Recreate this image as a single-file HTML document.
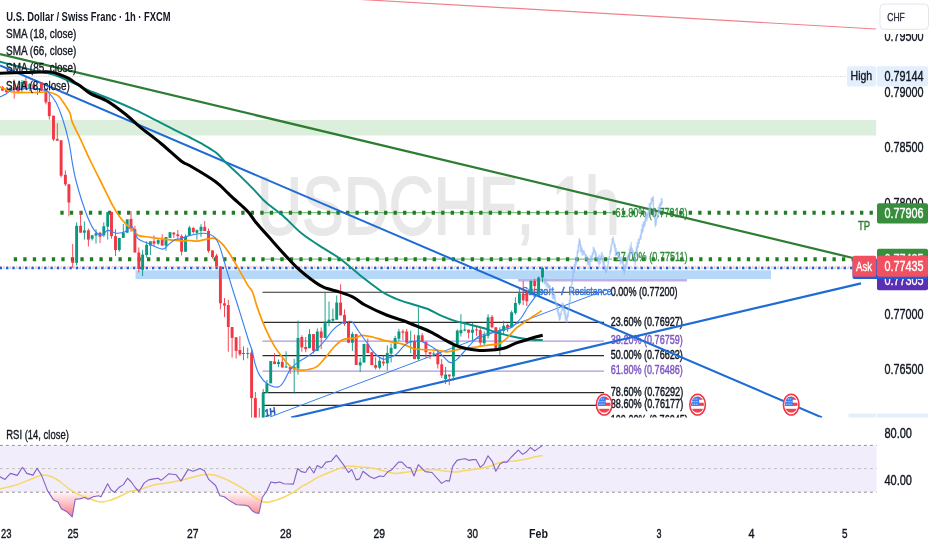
<!DOCTYPE html>
<html lang="en"><head><meta charset="utf-8"><title>USDCHF 1h chart</title>
<style>html,body{margin:0;padding:0;background:#fff}svg{display:block}text{font-family:"Liberation Sans",sans-serif}</style></head><body>
<svg width="932" height="550" viewBox="0 0 932 550">
<defs>
<clipPath id="main"><rect x="0" y="0" width="876.5" height="417.5"/></clipPath>
<clipPath id="mainfull"><rect x="0" y="0" width="932" height="417.5"/></clipPath>
<linearGradient id="os" gradientUnits="userSpaceOnUse" x1="0" y1="492" x2="0" y2="517"><stop offset="0" stop-color="#f7525f" stop-opacity="0.05"/><stop offset="1" stop-color="#f7525f" stop-opacity="0.75"/></linearGradient>
</defs>
<rect width="932" height="550" fill="#fff"/>
<g clip-path="url(#main)">
<text transform="matrix(0.761,0,0,1,0,0)" x="337.7" y="234.5" font-size="82" fill="#e8e8e9" stroke="#e8e8e9" stroke-width="1.8">USDCHF<tspan x="679">,</tspan> <tspan x="724.4">1</tspan><tspan x="768.7">h</tspan></text>
<path d="M553,225.5H566.5V238H553ZM573.5,225.5H587V238H573.5Z" fill="#fff"/>
<rect x="0" y="120" width="876.5" height="15.5" fill="#dcefdc"/>
<line x1="0" y1="76.5" x2="847" y2="76.5" stroke="#d4d4d4" stroke-width="0.9" stroke-dasharray="1.2,1.2"/>
<rect x="135.5" y="270.3" width="635.5" height="8.8" fill="#b5d8f8"/>
<line x1="518" y1="280.2" x2="687" y2="280.2" stroke="#c4afe4" stroke-width="2.6"/>
<line x1="262.5" y1="292.3" x2="604" y2="292.3" stroke="#2c2c2c" stroke-width="1.1"/>
<line x1="262.5" y1="322.4" x2="604" y2="322.4" stroke="#2c2c2c" stroke-width="1.1"/>
<line x1="262.5" y1="341" x2="604" y2="341" stroke="#ad97de" stroke-width="1.25"/>
<line x1="262.5" y1="355.6" x2="604" y2="355.6" stroke="#2c2c2c" stroke-width="1.1"/>
<line x1="262.5" y1="371" x2="604" y2="371" stroke="#ad97de" stroke-width="1.25"/>
<line x1="262.5" y1="392.6" x2="604" y2="392.6" stroke="#2c2c2c" stroke-width="1.1"/>
<line x1="262.5" y1="405.4" x2="604" y2="405.4" stroke="#2c2c2c" stroke-width="1.1"/>
<line x1="262" y1="212.7" x2="612" y2="212.7" stroke="#66b26a" stroke-width="1"/>
<line x1="262" y1="259.1" x2="612" y2="259.1" stroke="#66b26a" stroke-width="1"/>
<line x1="60.35" y1="212.8" x2="873.5" y2="212.8" stroke="#1f7d22" stroke-width="4" stroke-dasharray="3.3,6.22"/>
<line x1="13.75" y1="259.2" x2="873.5" y2="259.2" stroke="#1f7d22" stroke-width="4" stroke-dasharray="3.3,6.22"/>
<line x1="0" y1="266.4" x2="876" y2="266.4" stroke="#f9b4b9" stroke-width="0.9" stroke-dasharray="1.5,1.7"/>
<line x1="-0.34" y1="268.1" x2="876" y2="268.1" stroke="#8db8f5" stroke-width="1" stroke-dasharray="2,4.345" stroke-dashoffset="-3.3"/>
<line x1="-0.34" y1="268" x2="876" y2="268" stroke="#1e5fe0" stroke-width="2.7" stroke-dasharray="2.4,3.945"/>
<text x="610.8" y="295.5" font-size="12.5" fill="#131722" stroke="#131722" stroke-width="0.45" textLength="66.8" lengthAdjust="spacingAndGlyphs">0.00% (0.77200)</text>
<text x="610.8" y="325.6" font-size="12.5" fill="#131722" stroke="#131722" stroke-width="0.45" textLength="72.0" lengthAdjust="spacingAndGlyphs">23.60% (0.76927)</text>
<text x="610.8" y="344.2" font-size="12.5" fill="#7e57c2" stroke="#7e57c2" stroke-width="0.45" textLength="72.0" lengthAdjust="spacingAndGlyphs">38.20% (0.76759)</text>
<text x="610.8" y="358.8" font-size="12.5" fill="#131722" stroke="#131722" stroke-width="0.45" textLength="72.0" lengthAdjust="spacingAndGlyphs">50.00% (0.76623)</text>
<text x="610.8" y="374.2" font-size="12.5" fill="#7e57c2" stroke="#7e57c2" stroke-width="0.45" textLength="72.0" lengthAdjust="spacingAndGlyphs">61.80% (0.76486)</text>
<text x="610.8" y="395.8" font-size="12.5" fill="#131722" stroke="#131722" stroke-width="0.45" textLength="72.4" lengthAdjust="spacingAndGlyphs">78.60% (0.76292)</text>
<text x="610.8" y="408.2" font-size="12.5" fill="#131722" stroke="#131722" stroke-width="0.45" textLength="72.4" lengthAdjust="spacingAndGlyphs">88.60% (0.76177)</text>
<text x="610.8" y="423.6" font-size="12.5" fill="#131722" stroke="#131722" stroke-width="0.45" textLength="77.0" lengthAdjust="spacingAndGlyphs">100.00% (0.76045)</text>
<text x="615.6" y="217.0" font-size="12.5" fill="#2e8b3a" stroke="#2e8b3a" stroke-width="0.35" textLength="72.0" lengthAdjust="spacingAndGlyphs">61.80% (0.77913)</text>
<text x="615.6" y="261.4" font-size="12.5" fill="#2e8b3a" stroke="#2e8b3a" stroke-width="0.35" textLength="72.0" lengthAdjust="spacingAndGlyphs">27.00% (0.77511)</text>
<text x="522.0" y="294.8" font-size="11.8" fill="#3277ea" stroke="#3277ea" stroke-width="0.5" textLength="32.0" lengthAdjust="spacingAndGlyphs">Support</text>
<text x="561.0" y="294.8" font-size="11.8" fill="#3277ea" stroke="#3277ea" stroke-width="0.5" textLength="3.6" lengthAdjust="spacingAndGlyphs">/</text>
<text x="568.6" y="294.8" font-size="11.8" fill="#3277ea" stroke="#3277ea" stroke-width="0.5" textLength="43.0" lengthAdjust="spacingAndGlyphs">Resistance</text>
<line x1="360" y1="-0.5" x2="876" y2="29" stroke="#f0808a" stroke-width="1.2"/>
<line x1="0" y1="54" x2="853" y2="258" stroke="#2e7d32" stroke-width="2.2"/>
<line x1="0" y1="65.5" x2="822" y2="417.5" stroke="#1e6ad6" stroke-width="2"/>
<line x1="291" y1="417.5" x2="861" y2="283.4" stroke="#1e6ad6" stroke-width="2.15"/>
<line x1="270" y1="417" x2="607" y2="289.5" stroke="#3b82f0" stroke-width="1"/>
<text x="265.5" y="417" font-size="10.5" fill="#2456b8" stroke="#2456b8" stroke-width="0.3" font-weight="bold" font-style="italic" transform="rotate(-14 265.5 417)" textLength="11" lengthAdjust="spacingAndGlyphs">1H</text>
<polyline points="544.2,282.0 548.5,285.0 551.6,291.7 554.7,299.1 557.8,309.0 559.7,320.0 561.5,311.4 562.8,304.0 564.6,313.9 566.5,318.9 568.3,313.9 569.6,302.8 570.8,290.4 572.6,276.8 575.1,265.7 577.0,257.9 579.5,238.3 580.7,250.3 583.7,251.8 586.8,257.9 589.0,263.9 592.0,256.4 594.3,249.6 596.6,257.9 599.6,260.9 601.8,256.4 604.1,263.9 606.4,272.2 608.6,260.9 610.9,247.3 613.2,239.0 614.7,248.8 616.9,253.3 619.9,257.9 623.0,263.9 624.5,271.4 626.7,260.9 629.0,254.9 631.3,247.3 633.5,254.9 635.0,262.4 636.5,250.3 638.8,242.8 641.1,233.7 644.1,223.2 647.1,215.6 650.1,206.6 652.8,197.5 653.9,209.6 655.4,224.7 657.3,217.1 659.2,208.1 662.2,201.3" fill="none" stroke="#9cc0f5" stroke-width="1.4" stroke-opacity="0.4" stroke-linejoin="round"/>
<path d="M544.2,278.9V284.3M545.2,277.9V284.6M546.2,279.2V286.7M547.2,282.3V288.1M548.2,283.1V288.5M549.2,284.7V288.5M550.2,285.1V294.3M551.2,288.7V293.5M552.2,288.5V299.4M553.2,291.1V299.0M554.2,291.5V299.6M555.2,294.9V303.6M556.2,301.7V306.0M557.2,304.0V312.7M558.2,308.9V315.7M559.2,312.4V320.5M560.2,313.4V319.4M561.2,311.0V315.4M562.2,302.5V311.1M563.2,303.1V310.6M564.2,307.9V314.7M565.2,310.0V320.5M566.2,315.4V322.5M567.2,312.8V322.8M568.2,309.0V317.1M569.2,299.8V308.3M570.2,293.0V301.9M571.2,285.1V291.3M572.2,278.1V284.7M573.2,268.8V278.5M574.2,263.8V272.8M575.2,260.3V269.8M576.2,256.8V265.0M577.2,250.6V262.6M578.2,244.6V253.3M579.2,238.8V245.7M580.2,240.6V251.8M581.2,244.9V253.5M582.2,247.6V255.9M583.2,249.9V255.4M584.2,250.4V254.9M585.2,253.0V260.1M586.2,254.6V259.5M587.2,255.5V264.8M588.2,259.8V265.5M589.2,259.2V269.3M590.2,255.3V266.7M591.2,255.5V262.0M592.2,252.5V261.7M593.2,246.6V255.1M594.2,247.5V252.6M595.2,250.2V256.8M596.2,252.0V259.3M597.2,257.0V262.1M598.2,256.2V263.8M599.2,254.2V265.5M600.2,255.6V264.3M601.2,252.7V259.4M602.2,251.7V263.1M603.2,255.1V266.5M604.2,260.8V267.8M605.2,265.9V272.5M606.2,269.7V273.3M607.2,265.5V270.4M608.2,259.8V264.7M609.2,255.9V259.6M610.2,249.4V254.8M611.2,244.6V252.1M612.2,238.0V244.9M613.2,236.2V242.2M614.2,242.2V247.6M615.2,244.1V256.3M616.2,248.0V255.8M617.2,251.8V255.8M618.2,252.1V258.1M619.2,251.2V259.1M620.2,256.9V264.7M621.2,256.3V262.6M622.2,258.1V264.0M623.2,260.8V271.3M624.2,264.1V274.9M625.2,265.3V271.4M626.2,261.0V268.6M627.2,255.4V265.0M628.2,253.8V259.6M629.2,248.7V260.7M630.2,245.2V256.5M631.2,242.0V252.8M632.2,247.8V254.5M633.2,250.6V255.5M634.2,256.8V261.3M635.2,258.0V265.7M636.2,246.4V256.5M637.2,241.8V254.5M638.2,238.5V248.1M639.2,238.6V243.9M640.2,234.8V239.8M641.2,228.7V239.4M642.2,224.1V233.7M643.2,221.6V231.8M644.2,221.0V227.7M645.2,214.4V225.8M646.2,212.6V221.8M647.2,212.9V220.7M648.2,209.1V217.8M649.2,202.9V212.8M650.2,202.8V212.5M651.2,197.8V205.2M652.2,197.4V201.8M653.2,195.9V207.4M654.2,210.4V218.3M655.2,216.3V227.5M656.2,218.2V225.7M657.2,215.3V219.1M658.2,206.5V217.6M659.2,204.0V214.3M660.2,202.2V211.7M661.2,197.9V206.1M662.2,198.5V204.3" stroke="#8db5f4" stroke-width="1" stroke-opacity="0.7" fill="none"/>
<path d="M2.5,86.0V91.0" stroke="#f23645" stroke-width="0.9"/>
<rect x="1.05" y="87.0" width="2.9" height="3.5" fill="#f23645"/>
<path d="M6.4,89.0V93.0" stroke="#f23645" stroke-width="0.9"/>
<rect x="4.95" y="90.0" width="2.9" height="2.0" fill="#f23645"/>
<path d="M10.3,87.0V92.0" stroke="#089981" stroke-width="0.9"/>
<rect x="8.85" y="88.0" width="2.9" height="3.0" fill="#089981"/>
<path d="M14.2,79.5V98.5" stroke="#f23645" stroke-width="0.9"/>
<rect x="12.75" y="87.5" width="2.9" height="2.5" fill="#f23645"/>
<path d="M18.1,86.0V92.0" stroke="#f23645" stroke-width="0.9"/>
<rect x="16.65" y="86.5" width="2.9" height="5.0" fill="#f23645"/>
<path d="M22.0,80.0V93.0" stroke="#089981" stroke-width="0.9"/>
<rect x="20.55" y="82.0" width="2.9" height="8.0" fill="#089981"/>
<path d="M25.9,77.0V90.0" stroke="#f23645" stroke-width="0.9"/>
<rect x="24.45" y="81.0" width="2.9" height="8.0" fill="#f23645"/>
<path d="M29.8,83.0V91.0" stroke="#089981" stroke-width="0.9"/>
<rect x="28.35" y="84.0" width="2.9" height="5.0" fill="#089981"/>
<path d="M33.7,84.0V90.0" stroke="#f23645" stroke-width="0.9"/>
<rect x="32.25" y="84.5" width="2.9" height="4.5" fill="#f23645"/>
<path d="M37.5,87.5V95.0" stroke="#089981" stroke-width="0.9"/>
<rect x="36.05" y="88.0" width="2.9" height="2.0" fill="#089981"/>
<path d="M41.4,82.0V91.0" stroke="#f23645" stroke-width="0.9"/>
<rect x="39.95" y="82.6" width="2.9" height="8.0" fill="#f23645"/>
<path d="M45.9,90.2V104.3" stroke="#f23645" stroke-width="0.9"/>
<rect x="44.45" y="90.2" width="2.9" height="12.1" fill="#f23645"/>
<path d="M49.3,93.0V119.5" stroke="#f23645" stroke-width="0.9"/>
<rect x="47.85" y="102.0" width="2.9" height="14.1" fill="#f23645"/>
<path d="M53.5,115.7V141.0" stroke="#f23645" stroke-width="0.9"/>
<rect x="52.05" y="115.7" width="2.9" height="23.7" fill="#f23645"/>
<path d="M57.3,123.3V141.0" stroke="#f23645" stroke-width="0.9"/>
<rect x="55.85" y="138.9" width="2.9" height="1.7" fill="#f23645"/>
<path d="M61.1,140.3V177.4" stroke="#f23645" stroke-width="0.9"/>
<rect x="59.65" y="140.3" width="2.9" height="35.4" fill="#f23645"/>
<path d="M65.4,170.5V186.0" stroke="#f23645" stroke-width="0.9"/>
<rect x="63.95" y="174.8" width="2.9" height="9.5" fill="#f23645"/>
<path d="M68.9,184.0V216.3" stroke="#f23645" stroke-width="0.9"/>
<rect x="67.45" y="184.3" width="2.9" height="18.2" fill="#f23645"/>
<path d="M72.7,243.9V268.0" stroke="#f23645" stroke-width="0.9"/>
<rect x="71.25" y="260.3" width="2.9" height="2.6" fill="#f23645"/>
<path d="M76.6,222.3V265.5" stroke="#089981" stroke-width="0.9"/>
<rect x="75.15" y="225.8" width="2.9" height="37.1" fill="#089981"/>
<path d="M80.6,211.0V232.7" stroke="#f23645" stroke-width="0.9"/>
<rect x="79.15" y="225.8" width="2.9" height="6.9" fill="#f23645"/>
<path d="M84.4,221.5V239.6" stroke="#089981" stroke-width="0.9"/>
<rect x="82.95" y="230.4" width="2.9" height="2.3" fill="#089981"/>
<path d="M88.4,228.7V246.5" stroke="#f23645" stroke-width="0.9"/>
<rect x="86.95" y="230.4" width="2.9" height="9.2" fill="#f23645"/>
<path d="M92.2,234.9V240.5" stroke="#089981" stroke-width="0.9"/>
<rect x="90.75" y="235.3" width="2.9" height="3.4" fill="#089981"/>
<path d="M96.0,229.2V243.6" stroke="#089981" stroke-width="0.9"/>
<rect x="94.55" y="233.2" width="2.9" height="2.4" fill="#089981"/>
<path d="M100.0,231.8V243.0" stroke="#f23645" stroke-width="0.9"/>
<rect x="98.55" y="232.7" width="2.9" height="4.0" fill="#f23645"/>
<path d="M103.8,222.3V237.0" stroke="#089981" stroke-width="0.9"/>
<rect x="102.35" y="226.3" width="2.9" height="9.0" fill="#089981"/>
<path d="M107.7,212.0V239.6" stroke="#089981" stroke-width="0.9"/>
<rect x="106.25" y="212.0" width="2.9" height="14.6" fill="#089981"/>
<path d="M111.5,212.0V238.7" stroke="#f23645" stroke-width="0.9"/>
<rect x="110.05" y="212.0" width="2.9" height="24.1" fill="#f23645"/>
<path d="M115.5,229.2V256.0" stroke="#f23645" stroke-width="0.9"/>
<rect x="114.05" y="236.1" width="2.9" height="13.9" fill="#f23645"/>
<path d="M119.3,237.9V251.7" stroke="#089981" stroke-width="0.9"/>
<rect x="117.85" y="237.9" width="2.9" height="12.1" fill="#089981"/>
<path d="M123.3,224.0V237.9" stroke="#089981" stroke-width="0.9"/>
<rect x="121.85" y="232.7" width="2.9" height="5.2" fill="#089981"/>
<path d="M127.2,219.4V232.7" stroke="#089981" stroke-width="0.9"/>
<rect x="125.75" y="219.4" width="2.9" height="13.3" fill="#089981"/>
<path d="M131.0,211.1V231.8" stroke="#f23645" stroke-width="0.9"/>
<rect x="129.55" y="218.9" width="2.9" height="10.3" fill="#f23645"/>
<path d="M134.9,225.8V252.5" stroke="#f23645" stroke-width="0.9"/>
<rect x="133.45" y="229.2" width="2.9" height="23.3" fill="#f23645"/>
<path d="M138.8,247.4V272.4" stroke="#f23645" stroke-width="0.9"/>
<rect x="137.35" y="252.5" width="2.9" height="16.5" fill="#f23645"/>
<path d="M142.6,250.0V276.0" stroke="#089981" stroke-width="0.9"/>
<rect x="141.15" y="254.6" width="2.9" height="15.2" fill="#089981"/>
<path d="M146.6,241.3V257.7" stroke="#089981" stroke-width="0.9"/>
<rect x="145.15" y="244.8" width="2.9" height="10.3" fill="#089981"/>
<path d="M150.4,241.3V255.0" stroke="#089981" stroke-width="0.9"/>
<rect x="148.95" y="241.3" width="2.9" height="4.3" fill="#089981"/>
<path d="M154.0,235.3V246.5" stroke="#f23645" stroke-width="0.9"/>
<rect x="152.55" y="241.3" width="2.9" height="2.3" fill="#f23645"/>
<path d="M158.2,238.7V244.8" stroke="#089981" stroke-width="0.9"/>
<rect x="156.75" y="240.1" width="2.9" height="3.5" fill="#089981"/>
<path d="M162.2,234.4V245.6" stroke="#f23645" stroke-width="0.9"/>
<rect x="160.75" y="239.6" width="2.9" height="6.0" fill="#f23645"/>
<path d="M166.0,237.0V250.8" stroke="#089981" stroke-width="0.9"/>
<rect x="164.55" y="237.0" width="2.9" height="8.6" fill="#089981"/>
<path d="M170.0,232.2V237.9" stroke="#089981" stroke-width="0.9"/>
<rect x="168.55" y="232.2" width="2.9" height="5.7" fill="#089981"/>
<path d="M173.8,232.0V237.9" stroke="#f23645" stroke-width="0.9"/>
<rect x="172.35" y="232.7" width="2.9" height="1.7" fill="#f23645"/>
<path d="M177.8,230.0V238.7" stroke="#f23645" stroke-width="0.9"/>
<rect x="176.35" y="234.4" width="2.9" height="1.7" fill="#f23645"/>
<path d="M181.6,234.4V255.5" stroke="#f23645" stroke-width="0.9"/>
<rect x="180.15" y="236.1" width="2.9" height="15.6" fill="#f23645"/>
<path d="M185.5,234.5V251.7" stroke="#089981" stroke-width="0.9"/>
<rect x="184.05" y="236.6" width="2.9" height="15.1" fill="#089981"/>
<path d="M189.4,225.9V235.4" stroke="#089981" stroke-width="0.9"/>
<rect x="187.95" y="227.6" width="2.9" height="7.8" fill="#089981"/>
<path d="M193.3,226.8V233.7" stroke="#f23645" stroke-width="0.9"/>
<rect x="191.85" y="228.0" width="2.9" height="4.0" fill="#f23645"/>
<path d="M196.9,229.4V239.7" stroke="#089981" stroke-width="0.9"/>
<rect x="195.45" y="230.2" width="2.9" height="2.6" fill="#089981"/>
<path d="M201.0,224.2V237.0" stroke="#089981" stroke-width="0.9"/>
<rect x="199.55" y="226.8" width="2.9" height="4.0" fill="#089981"/>
<path d="M204.7,221.0V231.0" stroke="#f23645" stroke-width="0.9"/>
<rect x="203.25" y="226.8" width="2.9" height="4.2" fill="#f23645"/>
<path d="M208.5,228.5V252.7" stroke="#f23645" stroke-width="0.9"/>
<rect x="207.05" y="231.0" width="2.9" height="20.0" fill="#f23645"/>
<path d="M212.5,250.4V258.7" stroke="#f23645" stroke-width="0.9"/>
<rect x="211.05" y="250.4" width="2.9" height="6.6" fill="#f23645"/>
<path d="M216.5,253.9V266.5" stroke="#f23645" stroke-width="0.9"/>
<rect x="215.05" y="255.6" width="2.9" height="10.9" fill="#f23645"/>
<path d="M220.4,266.5V309.4" stroke="#f23645" stroke-width="0.9"/>
<rect x="218.95" y="266.5" width="2.9" height="36.8" fill="#f23645"/>
<path d="M224.5,298.1V317.1" stroke="#f23645" stroke-width="0.9"/>
<rect x="223.05" y="303.3" width="2.9" height="2.3" fill="#f23645"/>
<path d="M228.3,299.9V351.7" stroke="#f23645" stroke-width="0.9"/>
<rect x="226.85" y="305.0" width="2.9" height="22.0" fill="#f23645"/>
<path d="M232.1,327.0V357.7" stroke="#f23645" stroke-width="0.9"/>
<rect x="230.65" y="327.0" width="2.9" height="10.9" fill="#f23645"/>
<path d="M236.1,337.3V358.6" stroke="#f23645" stroke-width="0.9"/>
<rect x="234.65" y="337.3" width="2.9" height="13.5" fill="#f23645"/>
<path d="M239.9,336.1V356.0" stroke="#f23645" stroke-width="0.9"/>
<rect x="238.45" y="350.0" width="2.9" height="4.3" fill="#f23645"/>
<path d="M243.5,346.5V360.3" stroke="#089981" stroke-width="0.9"/>
<rect x="242.05" y="353.0" width="2.9" height="1.0" fill="#089981"/>
<path d="M247.7,347.7V358.6" stroke="#089981" stroke-width="0.9"/>
<rect x="246.25" y="353.0" width="2.9" height="1.0" fill="#089981"/>
<path d="M251.6,349.0V420.0" stroke="#f23645" stroke-width="0.9"/>
<rect x="250.15" y="352.6" width="2.9" height="45.5" fill="#f23645"/>
<path d="M255.4,392.0V420.0" stroke="#f23645" stroke-width="0.9"/>
<rect x="253.95" y="398.1" width="2.9" height="21.9" fill="#f23645"/>
<path d="M259.3,407.9V420.0" stroke="#f23645" stroke-width="0.9"/>
<rect x="257.85" y="419.0" width="2.9" height="1.0" fill="#f23645"/>
<path d="M263.2,389.0V420.0" stroke="#089981" stroke-width="0.9"/>
<rect x="261.75" y="392.8" width="2.9" height="27.2" fill="#089981"/>
<path d="M266.9,380.0V393.1" stroke="#089981" stroke-width="0.9"/>
<rect x="265.45" y="383.3" width="2.9" height="9.8" fill="#089981"/>
<path d="M270.7,361.1V383.3" stroke="#089981" stroke-width="0.9"/>
<rect x="269.25" y="361.1" width="2.9" height="22.2" fill="#089981"/>
<path d="M274.5,353.3V364.1" stroke="#f23645" stroke-width="0.9"/>
<rect x="273.05" y="361.4" width="2.9" height="2.7" fill="#f23645"/>
<path d="M278.5,359.6V367.1" stroke="#089981" stroke-width="0.9"/>
<rect x="277.05" y="361.9" width="2.9" height="2.2" fill="#089981"/>
<path d="M282.3,358.1V367.5" stroke="#f23645" stroke-width="0.9"/>
<rect x="280.85" y="361.9" width="2.9" height="5.6" fill="#f23645"/>
<path d="M286.1,351.3V367.9" stroke="#089981" stroke-width="0.9"/>
<rect x="284.65" y="366.5" width="2.9" height="1.0" fill="#089981"/>
<path d="M290.2,366.8V373.9" stroke="#f23645" stroke-width="0.9"/>
<rect x="288.75" y="366.8" width="2.9" height="2.6" fill="#f23645"/>
<path d="M294.2,358.9V393.5" stroke="#089981" stroke-width="0.9"/>
<rect x="292.75" y="366.8" width="2.9" height="2.6" fill="#089981"/>
<path d="M298.0,320.6V374.7" stroke="#089981" stroke-width="0.9"/>
<rect x="296.55" y="337.9" width="2.9" height="30.6" fill="#089981"/>
<path d="M301.8,335.3V351.7" stroke="#f23645" stroke-width="0.9"/>
<rect x="300.35" y="337.0" width="2.9" height="10.4" fill="#f23645"/>
<path d="M305.7,337.0V352.2" stroke="#f23645" stroke-width="0.9"/>
<rect x="304.25" y="347.0" width="2.9" height="2.1" fill="#f23645"/>
<path d="M309.5,329.2V348.2" stroke="#089981" stroke-width="0.9"/>
<rect x="308.05" y="334.1" width="2.9" height="14.1" fill="#089981"/>
<path d="M313.5,334.1V353.4" stroke="#f23645" stroke-width="0.9"/>
<rect x="312.05" y="334.1" width="2.9" height="16.7" fill="#f23645"/>
<path d="M317.3,328.4V350.8" stroke="#089981" stroke-width="0.9"/>
<rect x="315.85" y="331.5" width="2.9" height="19.3" fill="#089981"/>
<path d="M321.2,327.5V349.1" stroke="#f23645" stroke-width="0.9"/>
<rect x="319.75" y="331.5" width="2.9" height="6.4" fill="#f23645"/>
<path d="M325.1,293.0V337.9" stroke="#089981" stroke-width="0.9"/>
<rect x="323.65" y="321.5" width="2.9" height="16.4" fill="#089981"/>
<path d="M329.0,301.6V326.3" stroke="#089981" stroke-width="0.9"/>
<rect x="327.55" y="319.7" width="2.9" height="2.6" fill="#089981"/>
<path d="M332.9,308.5V322.3" stroke="#089981" stroke-width="0.9"/>
<rect x="331.45" y="318.9" width="2.9" height="1.7" fill="#089981"/>
<path d="M336.7,295.5V319.7" stroke="#089981" stroke-width="0.9"/>
<rect x="335.25" y="302.5" width="2.9" height="17.2" fill="#089981"/>
<path d="M340.6,284.3V315.4" stroke="#f23645" stroke-width="0.9"/>
<rect x="339.15" y="302.5" width="2.9" height="12.9" fill="#f23645"/>
<path d="M344.5,309.4V325.8" stroke="#f23645" stroke-width="0.9"/>
<rect x="343.05" y="314.9" width="2.9" height="9.1" fill="#f23645"/>
<path d="M348.5,321.1V342.7" stroke="#f23645" stroke-width="0.9"/>
<rect x="347.05" y="323.0" width="2.9" height="19.7" fill="#f23645"/>
<path d="M352.4,331.8V351.0" stroke="#089981" stroke-width="0.9"/>
<rect x="350.95" y="334.0" width="2.9" height="8.7" fill="#089981"/>
<path d="M356.2,334.2V365.0" stroke="#f23645" stroke-width="0.9"/>
<rect x="354.75" y="334.2" width="2.9" height="30.8" fill="#f23645"/>
<path d="M360.2,358.0V372.0" stroke="#089981" stroke-width="0.9"/>
<rect x="358.75" y="362.3" width="2.9" height="3.2" fill="#089981"/>
<path d="M364.0,343.9V362.5" stroke="#089981" stroke-width="0.9"/>
<rect x="362.55" y="343.9" width="2.9" height="18.6" fill="#089981"/>
<path d="M367.8,338.4V353.0" stroke="#f23645" stroke-width="0.9"/>
<rect x="366.35" y="343.9" width="2.9" height="9.1" fill="#f23645"/>
<path d="M371.8,352.2V365.1" stroke="#f23645" stroke-width="0.9"/>
<rect x="370.35" y="352.2" width="2.9" height="12.9" fill="#f23645"/>
<path d="M375.6,357.4V369.4" stroke="#f23645" stroke-width="0.9"/>
<rect x="374.15" y="365.1" width="2.9" height="2.6" fill="#f23645"/>
<path d="M379.6,358.2V369.4" stroke="#089981" stroke-width="0.9"/>
<rect x="378.15" y="360.8" width="2.9" height="6.9" fill="#089981"/>
<path d="M383.4,355.6V366.0" stroke="#f23645" stroke-width="0.9"/>
<rect x="381.95" y="361.7" width="2.9" height="1.7" fill="#f23645"/>
<path d="M387.3,345.3V370.3" stroke="#089981" stroke-width="0.9"/>
<rect x="385.85" y="353.0" width="2.9" height="10.4" fill="#089981"/>
<path d="M391.1,343.5V362.5" stroke="#089981" stroke-width="0.9"/>
<rect x="389.65" y="347.9" width="2.9" height="5.7" fill="#089981"/>
<path d="M395.1,335.8V348.7" stroke="#089981" stroke-width="0.9"/>
<rect x="393.65" y="338.0" width="2.9" height="10.7" fill="#089981"/>
<path d="M398.9,328.9V341.0" stroke="#089981" stroke-width="0.9"/>
<rect x="397.45" y="331.5" width="2.9" height="7.2" fill="#089981"/>
<path d="M402.9,329.4V340.0" stroke="#f23645" stroke-width="0.9"/>
<rect x="401.45" y="331.5" width="2.9" height="1.3" fill="#f23645"/>
<path d="M406.7,328.9V342.7" stroke="#f23645" stroke-width="0.9"/>
<rect x="405.25" y="331.5" width="2.9" height="11.2" fill="#f23645"/>
<path d="M410.7,330.6V353.0" stroke="#089981" stroke-width="0.9"/>
<rect x="409.25" y="341.5" width="2.9" height="1.0" fill="#089981"/>
<path d="M414.5,334.6V359.1" stroke="#f23645" stroke-width="0.9"/>
<rect x="413.05" y="341.0" width="2.9" height="18.1" fill="#f23645"/>
<path d="M418.4,307.3V360.5" stroke="#089981" stroke-width="0.9"/>
<rect x="416.95" y="335.3" width="2.9" height="23.8" fill="#089981"/>
<path d="M422.2,333.2V341.8" stroke="#f23645" stroke-width="0.9"/>
<rect x="420.75" y="335.3" width="2.9" height="6.5" fill="#f23645"/>
<path d="M425.9,341.8V358.2" stroke="#f23645" stroke-width="0.9"/>
<rect x="424.45" y="341.8" width="2.9" height="10.4" fill="#f23645"/>
<path d="M430.0,352.2V359.1" stroke="#f23645" stroke-width="0.9"/>
<rect x="428.55" y="352.2" width="2.9" height="1.7" fill="#f23645"/>
<path d="M433.7,351.3V356.5" stroke="#089981" stroke-width="0.9"/>
<rect x="432.25" y="353.5" width="2.9" height="1.0" fill="#089981"/>
<path d="M437.8,349.6V368.6" stroke="#f23645" stroke-width="0.9"/>
<rect x="436.35" y="353.0" width="2.9" height="11.3" fill="#f23645"/>
<path d="M441.7,359.1V378.0" stroke="#f23645" stroke-width="0.9"/>
<rect x="440.25" y="364.3" width="2.9" height="11.2" fill="#f23645"/>
<path d="M445.6,366.9V384.1" stroke="#089981" stroke-width="0.9"/>
<rect x="444.15" y="374.6" width="2.9" height="4.4" fill="#089981"/>
<path d="M449.3,374.6V385.0" stroke="#f23645" stroke-width="0.9"/>
<rect x="447.85" y="374.6" width="2.9" height="1.8" fill="#f23645"/>
<path d="M453.4,345.3V380.7" stroke="#089981" stroke-width="0.9"/>
<rect x="451.95" y="345.3" width="2.9" height="31.1" fill="#089981"/>
<path d="M457.3,329.4V346.1" stroke="#089981" stroke-width="0.9"/>
<rect x="455.85" y="330.6" width="2.9" height="15.5" fill="#089981"/>
<path d="M460.9,314.2V336.6" stroke="#089981" stroke-width="0.9"/>
<rect x="459.45" y="330.1" width="2.9" height="3.1" fill="#089981"/>
<path d="M464.8,322.0V331.5" stroke="#089981" stroke-width="0.9"/>
<rect x="463.35" y="329.4" width="2.9" height="1.2" fill="#089981"/>
<path d="M468.6,329.7V338.4" stroke="#f23645" stroke-width="0.9"/>
<rect x="467.15" y="329.7" width="2.9" height="3.1" fill="#f23645"/>
<path d="M472.5,322.8V340.1" stroke="#089981" stroke-width="0.9"/>
<rect x="471.05" y="329.7" width="2.9" height="3.1" fill="#089981"/>
<path d="M476.5,327.1V335.8" stroke="#f23645" stroke-width="0.9"/>
<rect x="475.05" y="329.4" width="2.9" height="1.0" fill="#f23645"/>
<path d="M480.3,327.1V346.1" stroke="#f23645" stroke-width="0.9"/>
<rect x="478.85" y="330.1" width="2.9" height="12.6" fill="#f23645"/>
<path d="M484.2,331.5V346.1" stroke="#089981" stroke-width="0.9"/>
<rect x="482.75" y="335.3" width="2.9" height="7.9" fill="#089981"/>
<path d="M488.1,314.2V338.4" stroke="#089981" stroke-width="0.9"/>
<rect x="486.65" y="317.3" width="2.9" height="18.5" fill="#089981"/>
<path d="M492.0,315.0V328.4" stroke="#f23645" stroke-width="0.9"/>
<rect x="490.55" y="316.8" width="2.9" height="10.5" fill="#f23645"/>
<path d="M495.8,327.3V348.9" stroke="#f23645" stroke-width="0.9"/>
<rect x="494.35" y="327.3" width="2.9" height="21.6" fill="#f23645"/>
<path d="M499.8,327.3V355.3" stroke="#089981" stroke-width="0.9"/>
<rect x="498.35" y="330.3" width="2.9" height="18.6" fill="#089981"/>
<path d="M503.6,320.8V334.5" stroke="#089981" stroke-width="0.9"/>
<rect x="502.15" y="325.8" width="2.9" height="5.1" fill="#089981"/>
<path d="M507.6,323.7V331.9" stroke="#f23645" stroke-width="0.9"/>
<rect x="506.15" y="325.0" width="2.9" height="2.5" fill="#f23645"/>
<path d="M511.6,310.6V327.2" stroke="#089981" stroke-width="0.9"/>
<rect x="510.15" y="312.3" width="2.9" height="14.9" fill="#089981"/>
<path d="M515.4,297.3V314.6" stroke="#089981" stroke-width="0.9"/>
<rect x="513.95" y="303.0" width="2.9" height="9.9" fill="#089981"/>
<path d="M519.4,287.8V305.1" stroke="#089981" stroke-width="0.9"/>
<rect x="517.95" y="293.3" width="2.9" height="10.1" fill="#089981"/>
<path d="M523.2,280.9V305.1" stroke="#f23645" stroke-width="0.9"/>
<rect x="521.75" y="293.9" width="2.9" height="6.4" fill="#f23645"/>
<path d="M526.8,289.5V306.0" stroke="#f23645" stroke-width="0.9"/>
<rect x="525.35" y="293.0" width="2.9" height="8.3" fill="#f23645"/>
<path d="M530.9,280.5V294.8" stroke="#089981" stroke-width="0.9"/>
<rect x="529.45" y="280.9" width="2.9" height="13.0" fill="#089981"/>
<path d="M534.7,278.8V292.1" stroke="#f23645" stroke-width="0.9"/>
<rect x="533.25" y="280.9" width="2.9" height="5.2" fill="#f23645"/>
<path d="M538.6,276.6V295.6" stroke="#089981" stroke-width="0.9"/>
<rect x="537.15" y="277.5" width="2.9" height="16.4" fill="#089981"/>
<path d="M542.5,266.7V282.6" stroke="#089981" stroke-width="0.9"/>
<rect x="541.05" y="268.0" width="2.9" height="9.5" fill="#089981"/>
<path d="M-3.0,61.0C0.8,62.0 12.8,65.2 20.0,67.0C27.2,68.8 35.0,70.9 40.0,72.0C45.0,73.1 46.7,73.0 50.0,73.8C53.3,74.6 56.9,75.8 60.0,77.0C63.1,78.2 65.8,79.6 68.7,80.9C71.6,82.2 74.0,83.1 77.3,84.7C80.6,86.3 83.6,88.3 88.7,90.5C93.8,92.7 100.2,94.9 107.7,98.0C115.2,101.1 125.0,105.2 133.6,109.2C142.2,113.2 152.4,118.5 159.5,122.1C166.6,125.7 170.8,128.1 175.9,130.7C181.0,133.3 185.7,135.3 190.0,137.5C194.3,139.7 197.5,141.2 201.8,143.7C206.1,146.2 211.3,148.9 215.6,152.3C219.9,155.8 223.7,160.5 227.7,164.4C231.7,168.3 235.5,171.4 239.8,175.6C244.1,179.8 249.8,185.4 253.6,189.4C257.4,193.4 260.3,196.9 262.9,199.5C265.5,202.1 265.7,202.2 269.2,205.0C272.7,207.8 278.4,211.8 283.7,216.4C289.0,221.0 295.1,228.1 300.9,232.8C306.6,237.6 311.7,240.6 318.2,244.9C324.7,249.2 332.9,253.5 340.0,258.7C347.1,263.9 354.4,270.8 361.0,276.0C367.6,281.2 375.2,286.9 379.5,290.0C383.8,293.1 383.0,292.6 386.5,294.3C390.0,296.0 395.7,298.7 400.3,300.4C404.9,302.1 409.5,303.3 414.1,304.7C418.7,306.1 423.3,307.1 427.9,309.0C432.5,310.9 437.1,313.9 441.7,315.9C446.3,317.9 450.9,319.7 455.5,321.1C460.1,322.5 464.8,323.4 469.4,324.5C474.0,325.6 479.2,326.8 483.2,328.0C487.2,329.2 490.6,330.6 493.5,331.5C496.4,332.4 497.2,332.8 500.4,333.6C503.6,334.4 508.5,335.6 512.5,336.5C516.5,337.4 520.9,338.2 524.6,338.8C528.3,339.4 531.9,339.8 534.9,340.0C537.9,340.2 541.4,340.0 542.7,340.0" fill="none" stroke="#0b8f80" stroke-width="2"/>
<path d="M0.0,86.8C0.8,87.2 3.7,88.4 5.0,89.0C6.3,89.6 6.3,89.9 8.0,90.5C9.7,91.1 11.3,92.1 15.0,92.4C18.7,92.7 25.0,92.6 30.0,92.5C35.0,92.4 42.1,92.2 45.0,92.0C47.9,91.8 45.2,91.0 47.3,91.6C49.4,92.2 54.7,93.3 57.6,95.4C60.5,97.5 62.4,101.0 64.5,104.0C66.6,107.0 68.8,110.5 70.1,113.5C71.4,116.5 70.3,117.3 72.3,122.1C74.2,126.8 78.8,135.5 81.8,142.0C84.8,148.5 87.5,154.7 90.5,161.0C93.5,167.3 97.4,174.8 100.0,180.0C102.6,185.2 103.8,187.8 106.0,192.1C108.2,196.4 110.6,201.7 112.9,205.9C115.2,210.1 117.5,213.9 119.8,217.1C122.1,220.3 124.4,222.6 126.7,224.9C129.0,227.2 131.6,229.2 133.6,231.0C135.6,232.8 135.9,234.5 138.8,235.6C141.7,236.7 146.0,236.6 150.9,237.3C155.8,238.0 163.0,239.0 168.2,239.6C173.4,240.2 178.4,240.7 182.0,240.8C185.6,241.0 187.4,240.4 190.0,240.5C192.6,240.6 194.7,241.3 197.3,241.1C200.0,240.9 203.0,239.9 205.9,239.4C208.8,238.9 211.9,237.7 214.5,238.3C217.1,238.9 218.9,240.5 221.5,243.2C224.1,245.9 227.2,250.1 230.1,254.4C233.0,258.7 235.8,264.1 238.7,269.1C241.6,274.1 245.1,280.8 247.4,284.6C249.7,288.4 250.9,288.4 252.5,292.0C254.1,295.6 254.7,299.8 256.8,305.9C258.9,312.0 262.5,321.8 265.4,328.4C268.3,335.0 271.2,340.7 274.1,345.6C277.0,350.5 279.8,354.1 282.7,357.7C285.6,361.3 288.8,365.2 291.4,367.2C294.0,369.2 295.4,369.4 298.3,369.8C301.2,370.2 305.4,370.1 308.6,369.5C311.8,368.9 314.4,368.5 317.3,366.4C320.2,364.3 323.0,360.2 325.9,356.9C328.8,353.6 331.6,349.4 334.5,346.5C337.4,343.6 339.7,341.0 343.2,339.6C346.7,338.2 352.1,338.6 355.3,337.9C358.5,337.2 359.4,335.4 362.3,335.3C365.2,335.2 369.2,336.2 372.6,337.0C376.1,337.8 379.5,339.2 383.0,340.1C386.5,341.0 389.9,341.6 393.4,342.3C396.8,343.0 400.2,343.3 403.7,344.4C407.1,345.5 410.6,347.8 414.1,348.7C417.6,349.6 421.1,349.4 424.5,349.6C427.9,349.8 431.7,349.8 434.8,350.1C437.9,350.4 441.1,351.0 443.4,351.3C445.7,351.6 446.3,352.0 448.6,351.7C450.9,351.4 454.4,350.2 457.3,349.6C460.2,349.1 462.7,348.8 465.9,348.4C469.1,348.0 472.8,347.5 476.3,347.0C479.8,346.5 483.5,345.7 486.7,345.3C489.9,344.9 493.0,344.8 495.3,344.4C497.6,344.0 498.4,344.2 500.4,343.1C502.4,342.0 504.7,340.3 507.3,337.9C509.9,335.4 513.0,331.0 515.9,328.4C518.8,325.8 521.7,324.4 524.6,322.4C527.5,320.4 530.3,318.3 533.2,316.3C536.1,314.3 540.4,311.6 541.8,310.6" fill="none" stroke="#ff9800" stroke-width="1.7"/>
<path d="M0.0,97.0C1.0,96.5 4.0,95.2 6.0,94.0C8.0,92.8 9.7,90.8 12.0,90.0C14.3,89.2 17.0,89.2 20.0,89.0C23.0,88.8 26.7,88.5 30.0,88.5C33.3,88.5 37.5,88.7 40.0,89.0C42.5,89.3 43.6,90.0 45.0,90.5C46.4,91.0 46.3,89.9 48.1,91.9C49.9,93.9 53.5,97.7 55.9,102.3C58.3,106.9 60.6,112.9 62.8,119.5C65.0,126.1 67.3,134.8 68.9,142.0C70.5,149.2 71.2,156.4 72.3,162.7C73.4,169.0 74.2,173.7 75.8,180.0C77.4,186.3 79.6,194.1 81.8,200.7C84.0,207.3 86.4,214.5 88.7,219.7C91.0,224.9 93.3,229.3 95.6,231.8C97.9,234.3 100.5,235.1 102.5,234.9C104.5,234.7 105.4,230.7 107.7,230.4C110.0,230.1 113.5,233.0 116.4,233.2C119.3,233.4 122.4,232.9 125.0,231.8C127.6,230.7 129.7,225.4 131.9,226.6C134.1,227.8 135.4,236.0 138.0,238.7C140.6,241.4 143.5,241.3 147.5,243.0C151.5,244.7 158.8,248.8 162.2,249.1C165.6,249.4 166.0,246.4 168.2,244.8C170.3,243.2 173.1,240.6 175.1,239.6C177.1,238.6 177.4,239.6 180.0,238.9C182.6,238.2 186.4,236.3 190.4,235.4C194.4,234.5 200.2,233.0 204.2,233.3C208.2,233.6 211.9,234.9 214.5,237.1C217.1,239.3 218.0,242.1 219.7,246.6C221.4,251.1 223.2,258.1 224.9,263.9C226.6,269.7 228.5,276.0 230.1,281.2C231.7,286.4 232.8,290.0 234.4,295.0C236.0,300.0 237.2,303.6 239.5,311.1C241.8,318.6 246.3,333.4 248.4,340.0C250.5,346.6 251.1,346.6 252.2,350.6C253.3,354.6 253.9,360.0 255.2,364.1C256.4,368.2 257.7,372.1 259.7,375.4C261.7,378.7 264.2,381.8 267.2,383.7C270.2,385.6 275.0,387.5 277.8,387.1C280.6,386.7 281.8,384.3 283.8,381.5C285.8,378.7 287.6,373.3 289.9,370.2C292.2,367.1 294.1,365.1 297.4,362.6C300.7,360.1 306.0,357.6 309.5,355.1C313.0,352.6 315.9,350.0 318.5,347.5C321.1,345.0 322.9,342.9 325.3,340.0C327.7,337.1 330.1,332.9 332.8,330.1C335.5,327.3 338.8,324.6 341.4,323.2C344.0,321.8 346.5,321.6 348.4,321.5C350.3,321.4 351.0,320.6 352.7,322.3C354.4,324.0 356.3,328.0 358.8,331.5C361.3,335.0 364.9,339.9 367.5,343.5C370.1,347.1 371.8,350.4 374.4,353.0C377.0,355.6 380.4,358.4 383.0,359.1C385.6,359.8 387.6,358.3 389.9,357.4C392.2,356.5 394.5,355.8 396.8,353.9C399.1,352.0 401.4,348.1 403.7,346.1C406.0,344.1 407.7,342.6 410.6,341.8C413.5,341.0 418.1,341.1 421.0,341.5C423.9,341.9 425.6,343.2 427.9,344.4C430.2,345.6 432.5,347.0 434.8,348.7C437.1,350.4 439.4,352.6 441.7,354.8C444.0,357.0 446.9,360.4 448.6,361.7C450.3,363.0 450.7,362.9 452.1,362.5C453.6,362.1 455.0,361.2 457.3,359.1C459.6,357.0 463.3,352.5 465.9,349.6C468.5,346.7 470.5,344.1 472.8,341.8C475.1,339.5 477.1,337.2 479.7,335.8C482.3,334.4 485.8,334.1 488.4,333.5C491.0,332.9 492.5,332.7 495.3,332.0C498.1,331.3 502.1,330.4 505.0,329.5C507.9,328.6 509.8,328.6 512.5,326.7C515.2,324.8 518.5,321.3 521.1,318.0C523.7,314.7 525.7,310.2 528.0,306.8C530.3,303.4 532.9,299.8 534.9,297.3C536.9,294.9 538.8,293.4 540.1,292.1C541.4,290.8 542.3,289.9 542.7,289.5" fill="none" stroke="#3b7ff5" stroke-width="1.15"/>
<path d="M-3.0,73.3C1.7,73.2 16.2,72.7 25.0,72.5C33.8,72.3 44.2,71.5 50.0,71.9C55.8,72.3 56.9,73.6 60.0,74.7C63.1,75.8 66.4,77.1 68.7,78.3C71.0,79.5 71.9,80.8 73.8,82.0C75.7,83.2 77.2,83.9 80.0,85.8C82.8,87.7 85.9,91.0 90.5,93.6C95.1,96.2 101.7,97.8 107.7,101.4C113.7,105.0 121.2,110.9 126.7,115.2C132.2,119.5 134.7,122.5 140.5,127.3C146.3,132.0 154.5,138.1 161.3,143.7C168.1,149.3 176.3,157.3 181.1,161.0C185.9,164.7 184.2,162.4 190.0,165.8C195.8,169.2 209.3,177.2 215.6,181.7C221.9,186.2 224.4,189.8 227.7,192.9C231.0,196.0 233.0,197.9 235.3,200.0C237.6,202.1 239.2,203.3 241.5,205.5C243.8,207.7 246.7,210.2 249.1,213.0C251.5,215.8 252.6,218.3 256.0,222.5C259.4,226.7 265.2,232.8 269.8,238.0C274.4,243.2 279.1,248.6 283.7,253.6C288.3,258.6 292.9,263.9 297.5,268.2C302.1,272.5 307.0,276.3 311.3,279.5C315.6,282.7 318.7,285.1 323.4,287.2C328.1,289.3 334.7,290.4 339.7,292.1C344.7,293.8 349.3,295.2 353.5,297.3C357.7,299.4 359.5,302.1 365.0,305.0C370.5,307.9 380.3,312.5 386.5,315.0C392.7,317.5 396.8,318.3 402.0,320.2C407.2,322.1 412.6,324.3 417.5,326.3C422.4,328.3 426.8,330.0 431.4,332.3C436.0,334.6 441.2,337.9 445.2,340.1C449.2,342.3 452.1,343.9 455.5,345.3C458.9,346.7 461.9,347.5 465.9,348.4C469.9,349.2 475.4,350.1 479.7,350.4C484.0,350.7 487.8,350.5 491.8,350.1C495.8,349.8 499.8,349.5 503.8,348.3C507.8,347.1 511.6,344.7 515.9,343.1C520.2,341.5 525.2,340.1 529.7,338.8C534.2,337.5 540.5,335.9 542.7,335.3" fill="none" stroke="#000" stroke-width="3.05" stroke-linejoin="round"/>
<text x="6.3" y="20.6" font-size="12" fill="#131722" font-weight="bold" textLength="164.4" lengthAdjust="spacingAndGlyphs">U.S. Dollar / Swiss Franc · 1h · FXCM</text>
<text x="6.1" y="37.5" font-size="12" fill="#131722" stroke="#131722" stroke-width="0.35" textLength="70.2" lengthAdjust="spacingAndGlyphs">SMA (18, close)</text>
<text x="6.1" y="54.8" font-size="12" fill="#131722" stroke="#131722" stroke-width="0.35" textLength="70.2" lengthAdjust="spacingAndGlyphs">SMA (66, close)</text>
<text x="6.1" y="72.1" font-size="12" fill="#131722" stroke="#131722" stroke-width="0.35" textLength="70.2" lengthAdjust="spacingAndGlyphs">SMA (85, close)</text>
<text x="6.1" y="89.5" font-size="12" fill="#131722" stroke="#131722" stroke-width="0.35" textLength="63.6" lengthAdjust="spacingAndGlyphs">SMA (8, close)</text>
</g>
<g transform="translate(604.2,404.6)">
<ellipse rx="7.8" ry="10.4" fill="#fff" stroke="#f23645" stroke-width="1.6"/>
<clipPath id="fc0"><ellipse rx="6.4" ry="8.2"/></clipPath>
<g clip-path="url(#fc0)">
<rect x="-7" y="-9" width="14" height="18" fill="#fff"/>
<rect x="-7" y="-8.3" width="14" height="3.5" fill="#f4414f"/>
<rect x="-7" y="-1.9" width="14" height="3.2" fill="#f4414f"/>
<rect x="-7" y="4.2" width="14" height="4.1" fill="#f4414f"/>
<rect x="-7" y="-8.3" width="8.5" height="9.6" fill="#3d7bf2"/>
<path d="M-5,-5.6H0.5M-5.5,-2.9H0.5M-5.5,-0.4H0.5" stroke="#dbe7fd" stroke-width="0.9" stroke-dasharray="1.1,0.7" fill="none"/>
</g></g>
<g transform="translate(697.6,404.6)">
<ellipse rx="7.8" ry="10.4" fill="#fff" stroke="#f23645" stroke-width="1.6"/>
<clipPath id="fc1"><ellipse rx="6.4" ry="8.2"/></clipPath>
<g clip-path="url(#fc1)">
<rect x="-7" y="-9" width="14" height="18" fill="#fff"/>
<rect x="-7" y="-8.3" width="14" height="3.5" fill="#f4414f"/>
<rect x="-7" y="-1.9" width="14" height="3.2" fill="#f4414f"/>
<rect x="-7" y="4.2" width="14" height="4.1" fill="#f4414f"/>
<rect x="-7" y="-8.3" width="8.5" height="9.6" fill="#3d7bf2"/>
<path d="M-5,-5.6H0.5M-5.5,-2.9H0.5M-5.5,-0.4H0.5" stroke="#dbe7fd" stroke-width="0.9" stroke-dasharray="1.1,0.7" fill="none"/>
</g></g>
<g transform="translate(791.2,404.6)">
<ellipse rx="7.8" ry="10.4" fill="#fff" stroke="#f23645" stroke-width="1.6"/>
<clipPath id="fc2"><ellipse rx="6.4" ry="8.2"/></clipPath>
<g clip-path="url(#fc2)">
<rect x="-7" y="-9" width="14" height="18" fill="#fff"/>
<rect x="-7" y="-8.3" width="14" height="3.5" fill="#f4414f"/>
<rect x="-7" y="-1.9" width="14" height="3.2" fill="#f4414f"/>
<rect x="-7" y="4.2" width="14" height="4.1" fill="#f4414f"/>
<rect x="-7" y="-8.3" width="8.5" height="9.6" fill="#3d7bf2"/>
<path d="M-5,-5.6H0.5M-5.5,-2.9H0.5M-5.5,-0.4H0.5" stroke="#dbe7fd" stroke-width="0.9" stroke-dasharray="1.1,0.7" fill="none"/>
</g></g>
<rect x="876.5" y="0" width="55.5" height="550" fill="#fff"/>
<text x="884.4" y="41.2" font-size="14" fill="#131722" stroke="#131722" stroke-width="0.4" textLength="39.1" lengthAdjust="spacingAndGlyphs">0.79500</text>
<text x="884.4" y="96.7" font-size="14" fill="#131722" stroke="#131722" stroke-width="0.4" textLength="39.1" lengthAdjust="spacingAndGlyphs">0.79000</text>
<text x="884.4" y="152.2" font-size="14" fill="#131722" stroke="#131722" stroke-width="0.4" textLength="39.1" lengthAdjust="spacingAndGlyphs">0.78500</text>
<text x="884.4" y="207.7" font-size="14" fill="#131722" stroke="#131722" stroke-width="0.4" textLength="39.1" lengthAdjust="spacingAndGlyphs">0.78000</text>
<text x="884.4" y="318.8" font-size="14" fill="#131722" stroke="#131722" stroke-width="0.4" textLength="39.1" lengthAdjust="spacingAndGlyphs">0.77000</text>
<text x="884.4" y="374.3" font-size="14" fill="#131722" stroke="#131722" stroke-width="0.4" textLength="39.1" lengthAdjust="spacingAndGlyphs">0.76500</text>
<rect x="877" y="0" width="55" height="34" fill="#fff"/>
<rect x="880" y="4" width="48.5" height="25.3" rx="4" fill="#fff" stroke="#e3e5eb" stroke-width="1"/>
<text x="887.3" y="20.6" font-size="11.5" fill="#2a2e39" stroke="#2a2e39" stroke-width="0.35" textLength="17.5" lengthAdjust="spacingAndGlyphs">CHF</text>
<rect x="847" y="66.2" width="29" height="20.3" rx="2" fill="#e3effd"/>
<rect x="876.8" y="66.2" width="51.2" height="20.3" rx="2" fill="#e3effd"/>
<text x="850.6" y="79.6" font-size="13.2" fill="#131722" stroke="#131722" stroke-width="0.4" textLength="21.6" lengthAdjust="spacingAndGlyphs">High</text>
<text x="884.4" y="81.1" font-size="14" fill="#131722" stroke="#131722" stroke-width="0.4" textLength="39.1" lengthAdjust="spacingAndGlyphs">0.79144</text>
<rect x="877" y="203.2" width="51" height="20.2" rx="2" fill="#388e3c"/>
<text x="884.4" y="218.2" font-size="14" fill="#fff" stroke="#fff" stroke-width="0.4" textLength="39.1" lengthAdjust="spacingAndGlyphs">0.77906</text>
<text x="858.0" y="230.0" font-size="13.2" fill="#2e7d32" stroke="#2e7d32" stroke-width="0.4" textLength="12.2" lengthAdjust="spacingAndGlyphs">TP</text>
<rect x="877" y="248.8" width="51" height="20.2" rx="2" fill="#388e3c"/>
<text x="884.4" y="263.8" font-size="14" fill="#fff" stroke="#fff" stroke-width="0.4" textLength="39.1" lengthAdjust="spacingAndGlyphs">0.77435</text>
<rect x="877" y="270" width="51" height="20.2" rx="2" fill="#5b2fb5"/>
<text x="884.4" y="285.1" font-size="14" fill="#fff" stroke="#fff" stroke-width="0.4" textLength="39.1" lengthAdjust="spacingAndGlyphs">0.77305</text>
<rect x="852.5" y="259" width="75.5" height="20" rx="2" fill="#1e5fe0"/>
<rect x="852.5" y="255.8" width="23.8" height="21" rx="2" fill="#f0505f"/>
<rect x="877" y="255.8" width="51" height="21" rx="2" fill="#f0505f"/>
<text x="856.0" y="271.0" font-size="13.2" fill="#fff" stroke="#fff" stroke-width="0.4" textLength="16.0" lengthAdjust="spacingAndGlyphs">Ask</text>
<text x="884.4" y="270.9" font-size="14" fill="#fff" stroke="#fff" stroke-width="0.4" textLength="39.1" lengthAdjust="spacingAndGlyphs">0.77435</text>
<rect x="848.5" y="413.6" width="27.5" height="3.9" fill="#e3effd"/>
<rect x="877" y="413.6" width="51" height="3.9" fill="#e3effd"/>
<rect x="0" y="445.4" width="876.5" height="46.8" fill="#f1edfa"/>
<line x1="0" y1="445.4" x2="876.5" y2="445.4" stroke="#858585" stroke-width="0.9" stroke-dasharray="2.8,3.2"/>
<line x1="0" y1="468.6" x2="876.5" y2="468.6" stroke="#b8b8b8" stroke-width="0.9" stroke-dasharray="2.8,3.2"/>
<line x1="0" y1="492.2" x2="876.5" y2="492.2" stroke="#858585" stroke-width="0.9" stroke-dasharray="2.8,3.2"/>
<text x="6.3" y="438.9" font-size="12" fill="#131722" stroke="#131722" stroke-width="0.35" textLength="62.5" lengthAdjust="spacingAndGlyphs">RSI (14, close)</text>
<clipPath id="rsic"><rect x="0" y="492.2" width="876" height="30"/></clipPath>
<g clip-path="url(#rsic)">
<path d="M0.0,476.8 5.0,479.4 10.4,473.4 17.3,475.4 22.5,467.3 26.8,473.4 33.0,475.1 37.1,468.2 41.5,475.1 47.5,490.6 53.6,500.1 58.0,501.9 61.3,508.8 66.5,511.4 72.2,516.9 75.2,499.3 79.5,498.9 84.7,497.5 88.1,499.3 93.3,496.7 98.5,495.8 101.0,496.7 107.6,483.7 111.0,489.8 114.5,492.4 119.2,487.2 123.5,484.6 127.5,478.2 131.3,482.0 135.6,488.0 139.0,491.5 144.3,482.9 148.6,479.9 153.8,478.9 158.0,478.2 161.2,480.3 169.0,473.7 176.0,474.7 181.0,481.1 188.0,469.6 193.0,471.3 200.0,468.5 204.4,470.8 208.7,479.4 215.6,485.5 219.9,495.8 224.3,496.7 228.6,500.1 236.4,504.8 245.0,505.3 248.5,506.2 252.0,510.5 255.4,512.7 258.9,513.4 262.3,497.5 266.6,491.5 270.9,482.0 275.3,482.9 279.6,482.0 283.9,483.7 293.4,484.1 297.7,468.5 301.2,471.6 305.5,472.5 309.5,466.5 313.8,473.0 317.3,465.6 321.6,467.8 326.0,462.1 331.1,461.3 336.3,455.2 344.1,465.6 348.4,472.5 351.8,469.6 356.2,479.9 359.6,478.9 363.0,471.3 370.0,476.8 374.3,478.6 379.5,476.0 383.8,476.5 388.0,471.6 391.6,469.9 398.5,462.1 402.0,462.1 407.0,467.3 410.6,467.8 414.0,476.0 418.3,464.7 425.2,471.6 432.0,472.5 441.6,483.4 446.0,480.6 449.4,481.1 452.8,466.1 457.0,460.4 461.2,459.2 465.5,458.7 469.0,460.4 472.5,459.6 476.0,459.6 480.2,467.3 483.7,464.4 488.0,455.8 492.3,461.3 495.8,471.3 500.0,463.9 503.6,462.1 507.0,462.1 511.4,457.0 518.3,450.1 522.6,454.4 526.0,452.3 530.4,447.5 534.7,450.9 542.5,445.4 L542.5,492.2 L0,492.2Z" fill="url(#os)"/>
</g>
<path d="M0.0,488.9C2.9,488.2 11.5,486.5 17.3,484.6C23.1,482.7 30.3,479.3 34.6,477.7C38.9,476.1 40.3,475.2 43.2,475.1C46.1,475.0 48.9,475.7 51.8,476.8C54.7,477.9 57.6,480.0 60.5,482.0C63.4,484.0 66.2,486.9 69.1,488.9C72.0,490.9 74.9,492.7 77.8,494.1C80.7,495.5 83.5,496.4 86.4,497.5C89.3,498.6 92.4,500.0 95.0,500.7C97.6,501.4 99.4,502.0 102.0,501.9C104.6,501.8 107.4,501.1 110.6,500.1C113.8,499.1 117.8,497.2 121.0,495.8C124.2,494.4 126.7,492.5 129.6,491.5C132.5,490.5 135.3,490.5 138.2,489.8C141.1,489.1 144.0,488.1 146.9,487.2C149.8,486.3 152.1,485.3 155.5,484.6C158.9,483.9 162.5,483.8 167.3,482.9C172.2,482.0 178.8,480.7 184.6,479.4C190.3,478.1 197.5,475.9 201.8,475.1C206.1,474.3 207.6,474.4 210.5,474.6C213.4,474.8 216.2,475.6 219.1,476.5C222.0,477.4 224.9,478.9 227.8,480.3C230.7,481.7 233.5,483.0 236.4,484.6C239.3,486.2 242.1,487.8 245.0,489.8C247.9,491.8 251.1,494.8 253.7,496.7C256.3,498.6 258.3,500.1 260.6,501.0C262.9,501.9 264.9,502.3 267.5,502.2C270.1,502.1 273.2,501.0 276.1,500.1C279.0,499.2 281.9,498.0 284.8,496.7C287.7,495.4 290.5,494.1 293.4,492.4C296.3,490.7 299.5,487.9 302.0,486.3C304.5,484.7 306.1,484.3 308.6,482.9C311.2,481.5 313.7,479.5 317.3,477.7C320.9,475.9 325.9,473.7 330.2,472.0C334.5,470.3 339.9,468.3 343.2,467.3C346.5,466.3 347.2,466.2 350.1,466.1C353.0,466.1 356.6,466.6 360.5,467.0C364.4,467.4 369.1,467.4 373.4,468.2C377.7,469.0 382.8,470.7 386.4,471.6C390.0,472.5 391.4,473.3 395.0,473.4C398.6,473.5 403.7,472.5 408.0,472.0C412.3,471.5 416.6,470.7 420.9,470.3C425.2,469.9 429.6,469.4 433.9,469.6C438.2,469.8 443.3,470.9 446.9,471.3C450.5,471.7 452.8,472.1 455.5,472.0C458.2,471.9 459.6,471.3 463.0,470.8C466.4,470.3 471.7,469.8 476.0,469.1C480.3,468.4 484.7,467.7 489.0,466.5C493.3,465.3 497.7,463.0 502.0,462.1C506.3,461.2 510.7,461.5 515.0,460.9C519.3,460.3 524.3,459.4 528.0,458.7C531.7,457.9 534.6,456.9 537.0,456.4C539.4,455.9 541.6,455.9 542.5,455.8" fill="none" stroke="#f8d766" stroke-width="1.5"/>
<polyline points="0.0,476.8 5.0,479.4 10.4,473.4 17.3,475.4 22.5,467.3 26.8,473.4 33.0,475.1 37.1,468.2 41.5,475.1 47.5,490.6 53.6,500.1 58.0,501.9 61.3,508.8 66.5,511.4 72.2,516.9 75.2,499.3 79.5,498.9 84.7,497.5 88.1,499.3 93.3,496.7 98.5,495.8 101.0,496.7 107.6,483.7 111.0,489.8 114.5,492.4 119.2,487.2 123.5,484.6 127.5,478.2 131.3,482.0 135.6,488.0 139.0,491.5 144.3,482.9 148.6,479.9 153.8,478.9 158.0,478.2 161.2,480.3 169.0,473.7 176.0,474.7 181.0,481.1 188.0,469.6 193.0,471.3 200.0,468.5 204.4,470.8 208.7,479.4 215.6,485.5 219.9,495.8 224.3,496.7 228.6,500.1 236.4,504.8 245.0,505.3 248.5,506.2 252.0,510.5 255.4,512.7 258.9,513.4 262.3,497.5 266.6,491.5 270.9,482.0 275.3,482.9 279.6,482.0 283.9,483.7 293.4,484.1 297.7,468.5 301.2,471.6 305.5,472.5 309.5,466.5 313.8,473.0 317.3,465.6 321.6,467.8 326.0,462.1 331.1,461.3 336.3,455.2 344.1,465.6 348.4,472.5 351.8,469.6 356.2,479.9 359.6,478.9 363.0,471.3 370.0,476.8 374.3,478.6 379.5,476.0 383.8,476.5 388.0,471.6 391.6,469.9 398.5,462.1 402.0,462.1 407.0,467.3 410.6,467.8 414.0,476.0 418.3,464.7 425.2,471.6 432.0,472.5 441.6,483.4 446.0,480.6 449.4,481.1 452.8,466.1 457.0,460.4 461.2,459.2 465.5,458.7 469.0,460.4 472.5,459.6 476.0,459.6 480.2,467.3 483.7,464.4 488.0,455.8 492.3,461.3 495.8,471.3 500.0,463.9 503.6,462.1 507.0,462.1 511.4,457.0 518.3,450.1 522.6,454.4 526.0,452.3 530.4,447.5 534.7,450.9 542.5,445.4" fill="none" stroke="#8560c6" stroke-width="1.1" stroke-linejoin="round"/>
<text x="884.4" y="437.6" font-size="14" fill="#131722" stroke="#131722" stroke-width="0.4" textLength="27.6" lengthAdjust="spacingAndGlyphs">80.00</text>
<text x="884.4" y="485.4" font-size="14" fill="#131722" stroke="#131722" stroke-width="0.4" textLength="27.6" lengthAdjust="spacingAndGlyphs">40.00</text>
<text x="1.0" y="538.1" font-size="13.4" fill="#131722" stroke="#131722" stroke-width="0.4" textLength="10.5" lengthAdjust="spacingAndGlyphs">23</text>
<text x="67.5" y="538.1" font-size="13.4" fill="#131722" stroke="#131722" stroke-width="0.4" textLength="11.0" lengthAdjust="spacingAndGlyphs">25</text>
<text x="187.0" y="538.1" font-size="13.4" fill="#131722" stroke="#131722" stroke-width="0.4" textLength="11.5" lengthAdjust="spacingAndGlyphs">27</text>
<text x="280.0" y="538.1" font-size="13.4" fill="#131722" stroke="#131722" stroke-width="0.4" textLength="11.5" lengthAdjust="spacingAndGlyphs">28</text>
<text x="373.5" y="538.1" font-size="13.4" fill="#131722" stroke="#131722" stroke-width="0.4" textLength="11.5" lengthAdjust="spacingAndGlyphs">29</text>
<text x="467.0" y="538.1" font-size="13.4" fill="#131722" stroke="#131722" stroke-width="0.4" textLength="11.0" lengthAdjust="spacingAndGlyphs">30</text>
<text x="529.0" y="538.1" font-size="13.4" fill="#131722" font-weight="bold" textLength="19.0" lengthAdjust="spacingAndGlyphs">Feb</text>
<text x="656.5" y="538.1" font-size="13.4" fill="#131722" stroke="#131722" stroke-width="0.4" textLength="5.0" lengthAdjust="spacingAndGlyphs">3</text>
<text x="748.5" y="538.1" font-size="13.4" fill="#131722" stroke="#131722" stroke-width="0.4" textLength="6.0" lengthAdjust="spacingAndGlyphs">4</text>
<text x="842.0" y="538.1" font-size="13.4" fill="#131722" stroke="#131722" stroke-width="0.4" textLength="5.5" lengthAdjust="spacingAndGlyphs">5</text>
</svg></body></html>
